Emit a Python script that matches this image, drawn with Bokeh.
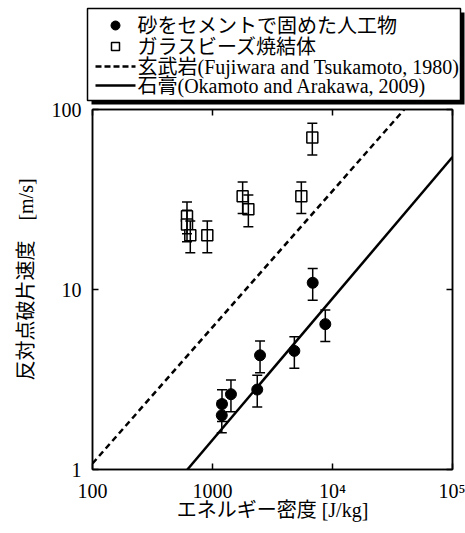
from bokeh.plotting import figure
from bokeh.layouts import column
from bokeh.models import (FixedTicker, LogAxis, Whisker, ColumnDataSource, TeeHead, Range1d)
from bokeh.core.properties import value
from bokeh.embed import file_html
from bokeh.resources import INLINE

# ---- data ----
cement_E = [1195, 1200, 1425, 2360, 2490, 4810, 6840, 8710]
cement_v = [2.00, 2.31, 2.62, 2.78, 4.31, 4.56, 10.9, 6.42]
glass_E = [613, 613, 653, 905, 1783, 1990, 5500, 6790]
glass_v = [25.5, 23.0, 20.0, 20.0, 33.0, 27.9, 33.0, 69.9]
rel_err = 0.2
basalt_E = [100, 39600]
basalt_v = [1.08, 100]
gypsum_E = [618, 100000]
gypsum_v = [1.0, 54.5]

x_ticks = [100, 1000, 10000, 100000]
x_tick_labels = ["100", "1000", "10\u2074", "10\u2075"]
y_ticks = [1, 10, 100]
y_tick_labels = ["1", "10", "100"]

legend_labels = ["砂をセメントで固めた人工物", "ガラスビーズ焼結体",
                 "玄武岩(Fujiwara and Tsukamoto, 1980)",
                 "石膏(Okamoto and Arakawa, 2009)"]
x_title = "エネルギー密度 [J/kg]"
y_title = "\u3000反対点破片速度\u3000[m/s]"

FONT = "'Liberation Serif', 'Noto Sans CJK JP'"
FS = "20px"

# ---------------- legend strip (top), laid out in pixel space ----------------
LEG_W, LEG_H = 465, 106
OVERLAP = 14
BOX = dict(left=87, right=460, top=8, bottom=100)
SHADOW_OFF = 4
ROW_Y = [25, 46, 66, 85]
GLYPH_X0, GLYPH_X1, TEXT_X = 95, 135, 137

lp = figure(width=LEG_W, height=LEG_H, x_range=Range1d(0, LEG_W), y_range=Range1d(LEG_H, 0),
            x_axis_location=None, y_axis_location=None,
            output_backend="svg", toolbar_location=None,
            min_border_left=0, min_border_right=0, min_border_top=0, min_border_bottom=0)
lp.frame_align = False
lp.xgrid.visible = False
lp.ygrid.visible = False
lp.outline_line_color = None
lp.background_fill_color = "white"
lp.border_fill_color = "white"

lp.quad(left=BOX["left"] + SHADOW_OFF, right=BOX["right"] + SHADOW_OFF,
        top=BOX["top"] + SHADOW_OFF, bottom=BOX["bottom"] + SHADOW_OFF,
        fill_color="black", line_color=None)
lp.quad(left=BOX["left"], right=BOX["right"], top=BOX["top"], bottom=BOX["bottom"],
        fill_color="white", line_color="black", line_width=1.5)
lp.scatter([(GLYPH_X0 + GLYPH_X1) / 2], [ROW_Y[0]], marker="circle", size=9,
           fill_color="black", line_color="black")
lp.scatter([(GLYPH_X0 + GLYPH_X1) / 2], [ROW_Y[1]], marker="square", size=8,
           fill_color="white", line_color="black", line_width=1.5)
lp.line([GLYPH_X0, GLYPH_X1], [ROW_Y[2], ROW_Y[2]], line_color="black", line_width=2.5,
        line_dash="6 3")
lp.line([GLYPH_X0, GLYPH_X1], [ROW_Y[3], ROW_Y[3]], line_color="black", line_width=2.5)
lp.text(x=[TEXT_X] * 4, y=ROW_Y, text=legend_labels, text_font=value(FONT),
        text_font_size=FS, text_baseline="middle", text_align="left", text_color="black")

# ---------------- main plot ----------------
p = figure(width=465, height=533 - LEG_H + OVERLAP, x_axis_type="log", y_axis_type="log",
           x_range=(100, 100000), y_range=(1, 100),
           output_backend="svg", toolbar_location=None,
           min_border_left=92, min_border_right=13, min_border_top=109 - LEG_H + OVERLAP,
           min_border_bottom=64)
p.frame_align = False
p.margin = (-OVERLAP, 0, 0, 0)
p.xgrid.visible = False
p.ygrid.visible = False
p.outline_line_color = "black"
p.outline_line_width = 1.5
p.background_fill_color = "white"
p.border_fill_color = "white"
p.border_fill_alpha = 0


def style_axis(ax, ticks, labels, size=FS):
    ax.ticker = FixedTicker(ticks=ticks, minor_ticks=[])
    ax.major_label_overrides = {t: l for t, l in zip(ticks, labels)}
    ax.major_tick_in = 6
    ax.major_tick_out = 0
    ax.minor_tick_in = 0
    ax.minor_tick_out = 0
    ax.axis_line_color = "black"
    ax.axis_line_width = 1.5
    ax.major_tick_line_color = "black"
    ax.major_tick_line_width = 1.5
    ax.major_label_text_font = FONT
    ax.major_label_text_font_size = size
    ax.major_label_text_color = "black"
    ax.axis_label_text_font = FONT
    ax.axis_label_text_font_size = "20px"
    ax.axis_label_text_font_style = "normal"
    ax.axis_label_text_color = "black"


xa = p.xaxis[0]
style_axis(xa, x_ticks, x_tick_labels)
xa.major_label_standoff = 10
xa.axis_label = x_title
xa.axis_label_standoff = -6

ya = p.yaxis[0]
style_axis(ya, y_ticks, y_tick_labels)
ya.major_label_standoff = 11
ya.axis_label = y_title
ya.axis_label_standoff = 12

top_ax = LogAxis()
style_axis(top_ax, x_ticks, ["" for _ in x_ticks], size="0px")
top_ax.major_label_standoff = 0
p.add_layout(top_ax, "above")
right_ax = LogAxis()
style_axis(right_ax, y_ticks, ["" for _ in y_ticks], size="0px")
right_ax.major_label_standoff = 0
p.add_layout(right_ax, "right")

# lines
p.line(basalt_E, basalt_v, line_color="black", line_width=2.5, line_dash="6 4")
p.line(gypsum_E, gypsum_v, line_color="black", line_width=2.5)

# error bars
src_c = ColumnDataSource(dict(x=cement_E, y=cement_v,
                              lo=[v * (1 - rel_err) for v in cement_v],
                              hi=[v * (1 + rel_err) for v in cement_v]))
src_g = ColumnDataSource(dict(x=glass_E, y=glass_v,
                              lo=[v * (1 - rel_err) for v in glass_v],
                              hi=[v * (1 + rel_err) for v in glass_v]))
for src in (src_g, src_c):
    p.add_layout(Whisker(source=src, base="x", lower="lo", upper="hi", dimension="height",
                         line_color="black", line_width=1.5,
                         upper_head=TeeHead(size=10, line_width=1.5, line_color="black"),
                         lower_head=TeeHead(size=10, line_width=1.5, line_color="black"),
                         level="glyph"))

p.scatter("x", "y", source=src_g, marker="square", size=11, fill_color="white",
          line_color="black", line_width=1.5)
p.scatter("x", "y", source=src_c, marker="circle", size=11, fill_color="black",
          line_color="black")

layout = column(lp, p, spacing=0)
open("out.html", "w").write(file_html(layout, INLINE))
